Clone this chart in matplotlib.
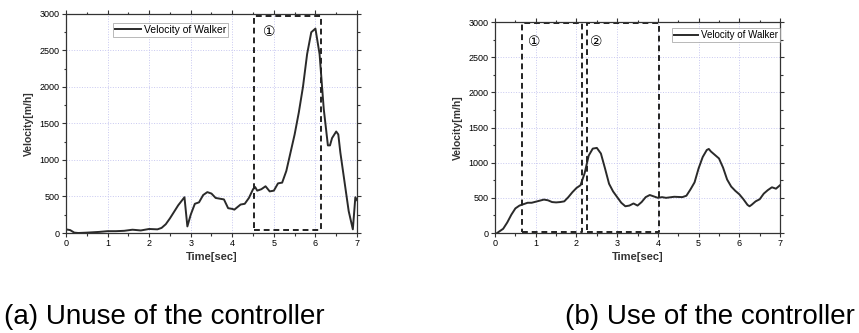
import numpy as np
import matplotlib.pyplot as plt
from matplotlib.ticker import MultipleLocator

plt.rcParams['font.family'] = ['Liberation Sans', 'DejaVu Sans']

# (a) without controller
t_a = [0.0, 0.1, 0.2, 0.3, 0.5, 0.8, 1.0, 1.2, 1.4, 1.6, 1.8, 2.0, 2.2, 2.3, 2.4,
       2.5, 2.6, 2.7, 2.85, 2.92, 3.0, 3.1, 3.2, 3.3, 3.4, 3.5, 3.6, 3.7, 3.8,
       3.9, 4.0, 4.05, 4.2, 4.3, 4.4, 4.5, 4.55, 4.6, 4.7, 4.8, 4.9, 5.0, 5.1,
       5.2, 5.3, 5.4, 5.5, 5.6, 5.7, 5.8, 5.9, 6.0, 6.1, 6.2, 6.3, 6.35, 6.4,
       6.5, 6.55, 6.6, 6.7, 6.8, 6.9, 6.96, 7.0]
v_a = [50, 40, 5, 0, 5, 15, 25, 25, 30, 45, 35, 55, 50, 70, 120,
       200, 290, 380, 490, 90, 250, 400, 420, 520, 560, 540, 480, 470, 460,
       340, 330, 320, 390, 400, 480, 600, 630, 580, 600, 640, 570, 580, 680,
       690, 850, 1100, 1350, 1650, 2000, 2450, 2750, 2800, 2450, 1700, 1200, 1200, 1300,
       1390, 1350, 1100, 700, 300, 50, 490, 450]

# (b) with controller
t_b = [0.05, 0.2, 0.3, 0.4, 0.5, 0.6, 0.7, 0.8, 0.9, 1.0, 1.1, 1.2, 1.3, 1.4,
       1.5, 1.6, 1.7, 1.8, 1.9, 2.0, 2.1, 2.2, 2.3, 2.4, 2.5, 2.6, 2.7, 2.8,
       2.9, 3.0, 3.1, 3.2, 3.3, 3.4, 3.5, 3.6, 3.7, 3.8, 3.9, 4.0, 4.1, 4.2,
       4.4, 4.6, 4.7, 4.8, 4.9, 5.0, 5.1, 5.2, 5.25, 5.3, 5.4, 5.5, 5.6, 5.7,
       5.8, 5.9, 6.0, 6.1, 6.2, 6.25, 6.3, 6.4, 6.5, 6.6, 6.7, 6.8, 6.9, 7.0]
v_b = [0, 60, 150, 260, 350, 390, 410, 430, 430, 445, 460, 475, 465, 440,
       435, 440, 450, 510, 580, 640, 680, 850, 1100, 1200, 1210, 1130, 920, 700,
       590, 510, 430, 380, 390, 420, 390, 440, 510, 540, 520, 500, 510, 500,
       515, 510, 530, 620, 720, 920, 1080, 1180, 1195, 1160, 1110, 1060, 930, 760,
       660, 600, 550, 480, 400, 380, 400, 450, 480, 560, 610, 650, 630, 680]

# dashed boxes (x0, x1, y0, y1) and labels
boxes_a = [(4.53, 6.14, 35, 2975)]
marks_a = [(4.75, 2760, '①')]
boxes_b = [(0.67, 2.13, 15, 2990), (2.26, 4.03, 15, 2990)]
marks_b = [(0.8, 2720, '①'), (2.33, 2720, '②')]

line_col = '#2a2a2a'


def setup(ax):
    ax.set_xlim(0, 7)
    ax.set_ylim(0, 3000)
    ax.xaxis.set_major_locator(MultipleLocator(1))
    ax.xaxis.set_minor_locator(MultipleLocator(0.5))
    ax.yaxis.set_major_locator(MultipleLocator(500))
    ax.yaxis.set_minor_locator(MultipleLocator(250))
    ax.grid(True, which='major', color='#c8c8f0', linestyle=':', linewidth=0.7)
    ax.tick_params(which='both', direction='out', labelsize=6.5, width=0.8,
                   top=True, right=True, color='#333333', pad=1.5)
    ax.tick_params(which='major', length=3)
    ax.tick_params(which='minor', length=1.8)
    for s in ax.spines.values():
        s.set_color('#333333')
        s.set_linewidth(0.9)
    ax.set_xlabel('Time[sec]', fontsize=8, fontweight='bold', color='#333333', labelpad=3)
    ax.set_ylabel('Velocity[m/h]', fontsize=7.5, fontweight='bold', color='#333333', labelpad=4)


def draw_boxes(ax, boxes, marks):
    for x0, x1, y0, y1 in boxes:
        ax.plot([x0, x1, x1, x0, x0], [y0, y0, y1, y1, y0], color='#222222',
                linestyle=(0, (3, 2)), linewidth=1.4)
    for x, y, s in marks:
        ax.text(x, y, s, fontsize=10, family=['DejaVu Sans'], ha='left', va='center')


fig = plt.figure(figsize=(8.59, 3.33), dpi=100)
ax1 = fig.add_axes([0.0768, 0.3003, 0.3388, 0.6577])
ax2 = fig.add_axes([0.5763, 0.3003, 0.3318, 0.6336])

ax1.plot(t_a, v_a, color=line_col, linewidth=1.4, label='Velocity of Walker')
setup(ax1)
draw_boxes(ax1, boxes_a, marks_a)
leg = ax1.legend(loc='upper left', bbox_to_anchor=(0.16, 0.96), fontsize=7.5,
                 fancybox=False, edgecolor='#999999', handlelength=2.5,
                 borderpad=0.2, handletextpad=0.3, borderaxespad=0)
leg.get_frame().set_linewidth(0.6)

ax2.plot(t_b, v_b, color=line_col, linewidth=1.4, label='Velocity of Walker')
setup(ax2)
draw_boxes(ax2, boxes_b, marks_b)
leg = ax2.legend(loc='upper right', bbox_to_anchor=(1.0, 0.97), fontsize=7,
                 fancybox=False, edgecolor='#999999', handlelength=2.5,
                 borderpad=0.2, handletextpad=0.3, borderaxespad=0)
leg.get_frame().set_linewidth(0.6)

fig.text(0.005, 0.027, '(a) Unuse of the controller', fontsize=20, ha='left', va='baseline')
fig.text(0.658, 0.027, '(b) Use of the controller', fontsize=20, ha='left', va='baseline')

fig.savefig('out.png', dpi=100)
